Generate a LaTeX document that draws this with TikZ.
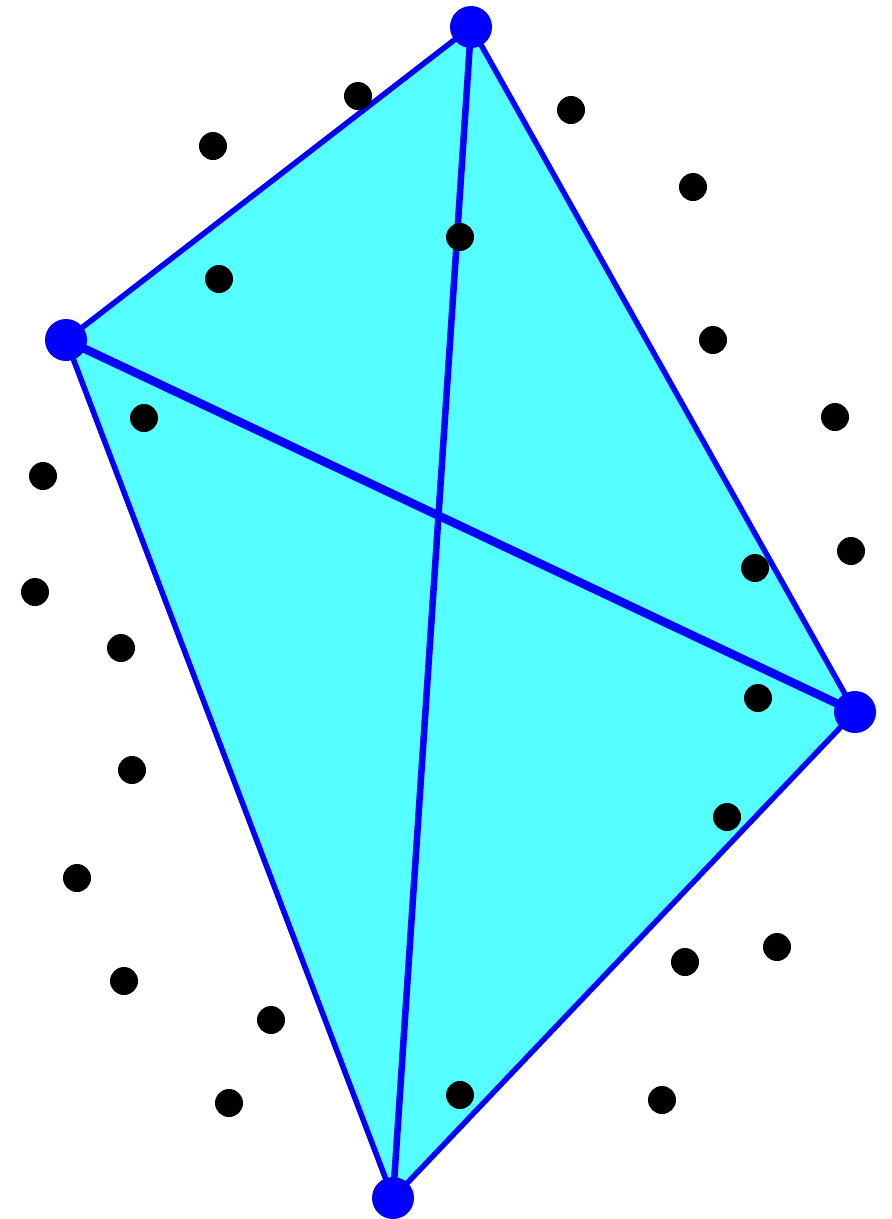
\documentclass[tikz,border=0pt]{standalone}
\usepackage{tikz}
\definecolor{hullfill}{RGB}{85,255,255}
\tikzset{corner/.style={circle,fill=blue,inner sep=0pt,minimum size=42pt},
  pt/.style={circle,fill=black,inner sep=0pt,minimum size=28pt}}
\begin{document}
\begin{tikzpicture}[x=1pt,y=-1pt]
\useasboundingbox (0,0) rectangle (892,1219);
\coordinate (t) at (471,27);
\coordinate (l) at (66,340);
\coordinate (r) at (855,712);
\coordinate (b) at (393,1198);
\fill[hullfill] (t)--(r)--(b)--(l)--cycle;
\draw[blue,line width=5.5pt,line join=round] (t)--(r)--(b)--(l)--cycle;
\draw[blue,line width=6.5pt] (t)--(b);
\draw[blue,line width=8.5pt] (l)--(r);
\foreach \x/\y in {358/96,213/146,571/110,693/187,460/237,219/279,713/340,144/418,835/417,43/476,851/551,755/568,35/592,121/648,758/698,132/770,727/817,77/878,685/962,777/947,124/981,271/1020,460/1095,229/1103,662/1100}
  {\node[pt] at (\x,\y) {};}
\foreach \c in {t,l,r,b} {\node[corner] (\c v) at (\c) {};}
\end{tikzpicture}
\end{document}
